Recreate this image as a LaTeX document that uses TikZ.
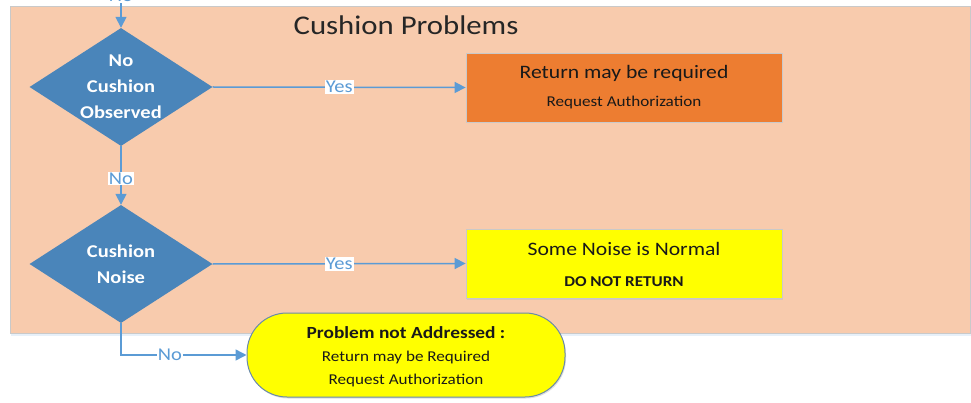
\documentclass[tikz,border=0pt]{standalone}
\usepackage{fontspec}
\setmainfont{Carlito}[FakeStretch=1.14]
\usetikzlibrary{shapes.geometric,arrows.meta,shadows}
\definecolor{panelfill}{HTML}{F8CBAD}
\definecolor{panelline}{HTML}{C9C9C9}
\definecolor{diafill}{HTML}{4A85BA}
\definecolor{linkblue}{HTML}{5B9BD5}
\definecolor{orangebox}{HTML}{ED7D31}
\definecolor{yellowbox}{HTML}{FFFF00}
\definecolor{termline}{HTML}{6A8BAA}
\tikzset{
  dia/.style={diamond, fill=diafill, draw=none, inner sep=0pt, minimum width=183pt, minimum height=118pt},
  diatext/.style={text=white, font=\fontsize{18}{26}\selectfont\bfseries, align=center, inner sep=0pt},
  boxnode/.style={rectangle, draw=panelline, line width=0.8pt, minimum width=316pt, minimum height=69pt, inner sep=0pt,
    drop shadow={shadow xshift=1pt, shadow yshift=-1.5pt, fill=black!25, opacity=0.5}},
  termnode/.style={rectangle, rounded corners=40pt, fill=yellowbox, draw=termline, line width=1pt, minimum width=318pt, minimum height=84pt, inner sep=0pt,
    drop shadow={shadow xshift=1pt, shadow yshift=-1.5pt, fill=black!25, opacity=0.5}},
  link/.style={draw=linkblue, line width=1.5pt, -{Triangle[length=11pt,width=11pt]}},
  lbl/.style={fill=white, text=linkblue, font=\fontsize{18}{20}\selectfont, inner sep=1pt},
  maintext/.style={text=black!90, font=\fontsize{19}{22}\selectfont},
  subtext/.style={text=black!90, font=\fontsize{15}{17}\selectfont},
}
\begin{document}
\begin{tikzpicture}[x=1pt,y=1pt]
\useasboundingbox (0,0) rectangle (971,402);
% panel
\fill[linkblue!15] (11,66) rectangle (971,69);
\node[rectangle, fill=panelfill, draw=panelline, line width=1pt, minimum width=960pt, minimum height=326pt, inner sep=0pt] (panel) at (490,232) {};
\node[text=black!85, font=\fontsize{27}{30}\selectfont] (title) at (406,377) {Cushion Problems};
% decisions
\node[dia] (d1) at (121,315) {};
\node[diatext] (d1t) at (d1) {No\\Cushion\\Observed};
\node[dia] (d2) at (121,138) {};
\node[diatext] (d2t) at (d2) {Cushion\\Noise};
% outcome boxes
\node[boxnode, fill=orangebox] (ret) at (624,314.5) {};
\node[maintext] (rett1) at (624,329) {Return may be required};
\node[subtext] (rett2) at (624,299) {Request Authorization};
\node[boxnode, fill=yellowbox] (norm) at (624,138.5) {};
\node[maintext] (normt1) at (624,153) {Some Noise is Normal};
\node[subtext, font=\fontsize{15}{17}\selectfont\bfseries] (normt2) at (624,120) {DO NOT RETURN};
% terminal
\node[termnode] (term) at (406,47) {};
\node[text=black!90, font=\fontsize{17}{19}\selectfont\bfseries] (termt1) at (406,69) {Problem not Addressed :};
\node[subtext] (termt2) at (406,45) {Return may be Required};
\node[subtext] (termt3) at (406,22) {Request Authorization};
% connectors
\coordinate (topin) at (121,402);
\draw[link] (topin) -- (d1.north);
\node[lbl] (lno0) at (121,406) {No};
\draw[link] (d1.east) -- node[lbl, pos=0.5] (lyes1) {Yes} (ret.west);
\draw[link] (d1.south) -- node[lbl, pos=0.55] (lno1) {No} (d2.north);
\draw[link] (d2.east) -- node[lbl, pos=0.5] (lyes2) {Yes} (norm.west);
\draw[link] (d2.south) |- node[lbl, pos=0.695] (lno2) {No} (term.west);
\end{tikzpicture}
\end{document}
